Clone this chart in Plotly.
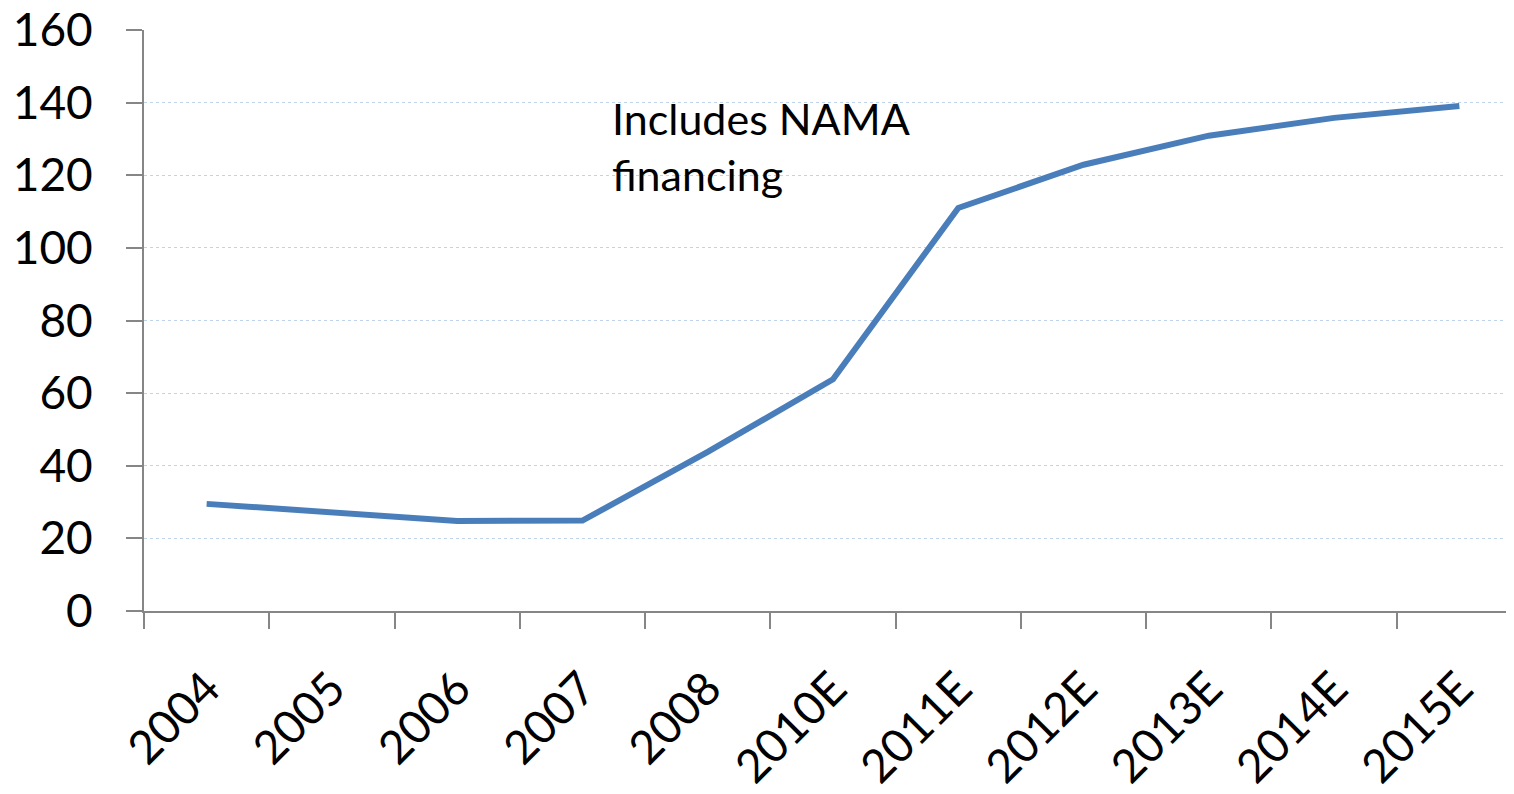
import plotly.graph_objects as go

categories = ["2004", "2005", "2006", "2007", "2008", "2010E", "2011E", "2012E", "2013E", "2014E", "2015E"]
values = [29.5, 27.3, 24.8, 24.9, 43.8, 63.8, 111.0, 122.9, 130.9, 135.8, 139.1]
y_ticks = [0, 20, 40, 60, 80, 100, 120, 140, 160]
note_text = "Includes NAMA<br>financing"

FONT = "Lato, Calibri, Carlito, sans-serif"
AXIS_GRAY = "#868686"

fig = go.Figure()
fig.add_trace(go.Scatter(
    x=categories, y=values, mode="lines",
    line=dict(color="#4a7ebb", width=6),
    showlegend=False, hoverinfo="skip",
))

fig.update_layout(
    width=1514, height=794,
    margin=dict(l=136, r=0, t=22, b=191),
    paper_bgcolor="white", plot_bgcolor="white",
    font=dict(family=FONT, size=46, color="black"),
    xaxis=dict(
        type="category",
        range=[-0.5, 10.5],
        tickson="boundaries",
        ticks="outside", ticklen=16, tickwidth=2, tickcolor=AXIS_GRAY,
        showline=True, linecolor=AXIS_GRAY, linewidth=2,
        showgrid=False, tickangle=-45,
        ticklabelstandoff=30,
        ticklabeloverflow="allow",
        automargin=False,
        tickfont=dict(family=FONT, size=46, color="black"),
    ),
    yaxis=dict(
        range=[0, 160], tickvals=y_ticks,
        ticks="outside", ticklen=16, tickwidth=2, tickcolor=AXIS_GRAY,
        showline=True, linecolor=AXIS_GRAY, linewidth=2,
        showgrid=True, gridcolor="#c0d3ec", griddash="dot", gridwidth=1,
        zeroline=False,
        ticklabelstandoff=24,
        ticklabeloverflow="allow",
        automargin=False,
        tickfont=dict(family=FONT, size=46, color="black"),
    ),
    annotations=[dict(
        text=note_text, xref="paper", yref="paper",
        x=(610 - 144) / 1378, y=(611 - 91) / 581,
        xanchor="left", yanchor="top", align="left", showarrow=False,
        font=dict(family=FONT, size=43, color="black"),
    )],
)

fig.write_html("out.html")
